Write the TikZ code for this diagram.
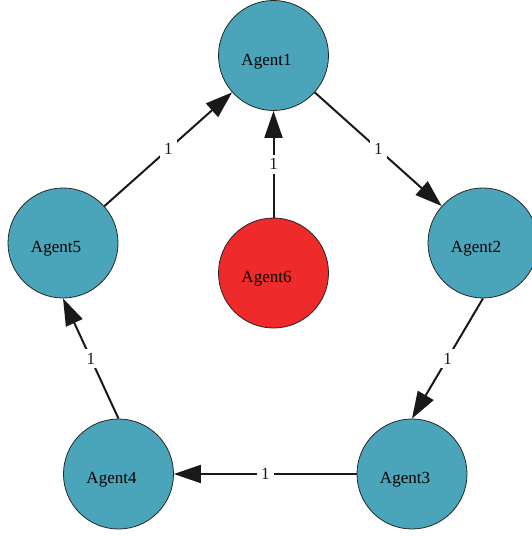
\documentclass[tikz,border=0pt]{standalone}
\usepackage{fontspec}
\setmainfont{Liberation Serif}
\usepackage{tikz}
\usetikzlibrary{arrows.meta}
\definecolor{agentblue}{RGB}{75,165,186}
\definecolor{agentred}{RGB}{238,42,42}

\begin{document}
\begin{tikzpicture}[x=1pt,y=-1pt,
 agent/.style={circle,draw=black!85,line width=0.8pt,fill=agentblue,minimum size=110pt,inner sep=0pt,
   label={[xshift=-7pt,yshift=-6pt,font=\fontsize{17}{20}\selectfont]center:#1}},
 link/.style={-{Triangle[length=27pt,width=18pt]},line width=2pt,black!90},
 weight/.style={fill=white,inner sep=4pt,font=\fontsize{17}{20}\selectfont}]
 \useasboundingbox (0,0) rectangle (531,536);
 \node[agent=Agent1] (a1) at (273.5,55.5) {};
 \node[agent=Agent2] (a2) at (483,243) {};
 \node[agent=Agent3] (a3) at (412,474) {};
 \node[agent=Agent4] (a4) at (118.5,474) {};
 \node[agent=Agent5] (a5) at (63,243) {};
 \node[agent=Agent6,fill=agentred] (a6) at (273.5,273) {};
 \draw[link] (a1) -- node[weight] {1} (a2);
 \draw[link] (a2.south) -- node[weight] {1} (a3.north);
 \draw[link] (a3) -- node[weight] {1} (a4);
 \draw[link] (a4.north) -- node[weight] {1} (a5.south);
 \draw[link] (a5) -- node[weight] {1} (a1);
 \draw[link] (a6.north) -- node[weight] {1} (a1.south);
\end{tikzpicture}
\end{document}
